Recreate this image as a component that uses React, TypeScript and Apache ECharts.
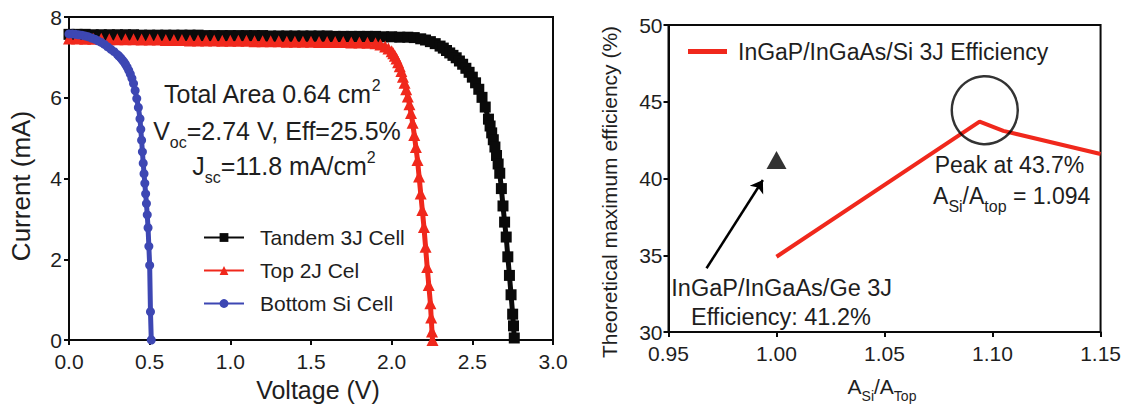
import React, { useEffect, useRef } from "react";
import * as echarts from "echarts";

// ---------------- Left panel: I-V curves [Voltage (V), Current (mA)] ----------------
const tandemCell: [number, number][] = [
  [0.00, 7.57], [0.05, 7.57], [0.10, 7.57], [0.15, 7.56], [0.20, 7.56], [0.25, 7.56], [0.30, 7.56],
  [0.35, 7.56], [0.40, 7.56], [0.45, 7.55], [0.50, 7.55], [0.55, 7.55], [0.60, 7.55], [0.65, 7.55],
  [0.70, 7.55], [0.75, 7.55], [0.80, 7.55], [0.85, 7.54], [0.90, 7.54], [0.95, 7.54], [1.00, 7.54],
  [1.05, 7.54], [1.10, 7.54], [1.15, 7.54], [1.20, 7.54], [1.25, 7.53], [1.30, 7.53], [1.35, 7.53],
  [1.40, 7.53], [1.45, 7.53], [1.50, 7.53], [1.55, 7.53], [1.60, 7.53], [1.65, 7.52], [1.70, 7.52],
  [1.75, 7.52], [1.80, 7.52], [1.85, 7.52], [1.90, 7.52], [1.95, 7.51], [2.00, 7.51], [2.05, 7.50],
  [2.10, 7.50], [2.14, 7.49], [2.18, 7.46], [2.21, 7.43], [2.24, 7.39], [2.27, 7.34], [2.30, 7.28],
  [2.32, 7.23], [2.34, 7.17], [2.36, 7.11], [2.38, 7.05], [2.40, 6.99], [2.42, 6.91], [2.44, 6.83],
  [2.46, 6.73], [2.48, 6.63], [2.50, 6.51], [2.52, 6.37], [2.54, 6.21], [2.56, 6.01], [2.58, 5.77],
  [2.60, 5.47], [2.61, 5.30], [2.62, 5.13], [2.63, 4.96], [2.64, 4.78], [2.65, 4.57], [2.66, 4.36],
  [2.67, 4.13], [2.68, 3.75], [2.69, 3.32], [2.70, 2.92], [2.71, 2.55], [2.72, 2.06], [2.73, 1.60],
  [2.74, 1.12], [2.75, 0.64], [2.755, 0.35], [2.76, 0.05],
];

const top2JCell: [number, number][] = [
  [0.00, 7.47], [0.05, 7.47], [0.10, 7.46], [0.15, 7.46], [0.20, 7.46], [0.25, 7.45], [0.30, 7.45],
  [0.35, 7.45], [0.40, 7.45], [0.45, 7.44], [0.50, 7.44], [0.55, 7.44], [0.60, 7.43], [0.65, 7.43],
  [0.70, 7.43], [0.75, 7.42], [0.80, 7.42], [0.85, 7.42], [0.90, 7.42], [0.95, 7.41], [1.00, 7.41],
  [1.05, 7.41], [1.10, 7.41], [1.15, 7.40], [1.20, 7.40], [1.25, 7.40], [1.30, 7.40], [1.35, 7.39],
  [1.40, 7.39], [1.45, 7.39], [1.50, 7.39], [1.55, 7.38], [1.60, 7.38], [1.65, 7.38], [1.70, 7.38],
  [1.75, 7.37], [1.80, 7.37], [1.85, 7.36], [1.90, 7.35], [1.93, 7.32], [1.96, 7.27], [1.98, 7.22],
  [2.00, 7.15], [2.01, 7.10], [2.02, 7.04], [2.03, 6.97], [2.04, 6.88], [2.05, 6.78], [2.06, 6.66],
  [2.07, 6.52], [2.08, 6.37], [2.09, 6.21], [2.10, 6.03], [2.11, 5.84], [2.12, 5.62], [2.13, 5.38],
  [2.14, 5.08], [2.15, 4.78], [2.16, 4.46], [2.17, 4.05], [2.18, 3.63], [2.19, 3.22], [2.20, 2.80],
  [2.21, 2.31], [2.22, 1.81], [2.23, 1.36], [2.24, 0.91], [2.245, 0.56], [2.25, 0.21], [2.253, 0.00],
];

const bottomSiCell: [number, number][] = [
  [0.00, 7.58], [0.02, 7.58], [0.04, 7.57], [0.06, 7.56], [0.08, 7.55], [0.10, 7.53], [0.12, 7.51],
  [0.14, 7.48], [0.16, 7.45], [0.18, 7.41], [0.20, 7.37], [0.22, 7.32], [0.24, 7.26], [0.26, 7.20],
  [0.28, 7.14], [0.30, 7.07], [0.31, 7.03], [0.32, 6.99], [0.33, 6.94], [0.34, 6.89], [0.35, 6.83],
  [0.36, 6.76], [0.37, 6.68], [0.38, 6.59], [0.39, 6.48], [0.40, 6.35], [0.41, 6.18], [0.42, 5.98],
  [0.43, 5.76], [0.44, 5.48], [0.445, 5.22], [0.45, 4.95], [0.455, 4.66], [0.46, 4.38], [0.465, 4.12],
  [0.47, 3.88], [0.475, 3.62], [0.48, 3.38], [0.485, 3.10], [0.49, 2.78], [0.495, 2.32], [0.50, 1.85],
  [0.505, 0.70], [0.51, 0.00],
];

const leftSeriesNames = ["Tandem 3J Cell", "Top 2J Cel", "Bottom Si Cell"];
const voltageTicks = [0, 3, 0.5];
const currentTicks = [0, 8, 2];

// ---------------- Right panel: efficiency vs area ratio ----------------
const areaRatio = [1.0, 1.094, 1.105, 1.15];
const siEfficiency = [34.9, 43.7, 43.1, 41.6];
const geCellPoint: [number, number] = [1.0, 41.2];
const arrowFrom: [number, number] = [0.9676, 34.15];
const arrowTo: [number, number] = [0.9937, 39.9];
const peakCircle: [number, number] = [1.0964, 44.45];
const ratioTicks = [0.95, 1.15, 0.05];
const effTicks = [30, 50, 5];
const rightSeriesName = "InGaP/InGaAs/Si 3J Efficiency";

const FONT = '"Liberation Sans", Arial, Helvetica, sans-serif';
const TXT = "#1e1e1e";
const BLACK = "#0a0a0a";
const RED = "#f0281c";
const BLUE = "#3d47b3";

function tok(fontSize: number, lineHeight: number, padTop: number, padBottom: number) {
  return {
    fontSize,
    fontFamily: FONT,
    fill: TXT,
    color: TXT,
    lineHeight,
    padding: [padTop, 0, padBottom, 0],
    verticalAlign: "top",
  };
}

function gText(x: number, y: number, text: string, size: number, rich?: any, rotation?: number) {
  return {
    type: "text",
    x,
    y,
    rotation: rotation || 0,
    z: 100,
    style: {
      text,
      fontSize: size,
      fontFamily: FONT,
      fill: TXT,
      align: "center",
      verticalAlign: "middle",
      textAlign: "center",
      textVerticalAlign: "middle",
      rich,
    },
  };
}

const richLeft = {
  m: tok(25, 28, 5, 3),
  s: tok(16, 16, 21, 0),
  p: tok(16, 16, 1, 20),
};
const richRight = {
  m: tok(23, 26, 5, 5),
  s: tok(16, 16, 19, 1),
};
const richAxis = {
  m: tok(21, 24, 6, 5),
  s: tok(14, 15, 19, 1),
};

function axisCommon() {
  return {
    axisLine: { show: true, lineStyle: { color: BLACK, width: 2 } },
    axisTick: { show: true, inside: false, length: 5, lineStyle: { color: BLACK, width: 2 } },
    splitLine: { show: false },
  };
}

export default function App() {
  const ref = useRef<HTMLDivElement>(null);

  useEffect(() => {
    if (!ref.current) return;
    const chart = echarts.init(ref.current, null, { renderer: "svg" });

    const option: any = {
      animation: false,
      backgroundColor: "#ffffff",
      textStyle: { fontFamily: FONT },
      grid: [
        { left: 69, top: 17, width: 484, height: 323, show: true, borderColor: BLACK, borderWidth: 2, backgroundColor: "transparent" },
        { left: 668.5, top: 25, width: 433.5, height: 307, show: true, borderColor: BLACK, borderWidth: 2, backgroundColor: "transparent" },
      ],
      xAxis: [
        {
          gridIndex: 0,
          type: "value",
          min: voltageTicks[0],
          max: voltageTicks[1],
          interval: voltageTicks[2],
          ...axisCommon(),
          axisLabel: {
            fontSize: 21,
            color: TXT,
            fontFamily: FONT,
            margin: 11,
            formatter: (v: number) => v.toFixed(1),
          },
        },
        {
          gridIndex: 1,
          type: "value",
          min: ratioTicks[0],
          max: ratioTicks[1],
          interval: ratioTicks[2],
          ...axisCommon(),
          axisLabel: {
            fontSize: 21,
            color: TXT,
            fontFamily: FONT,
            margin: 11,
            formatter: (v: number) => v.toFixed(2),
          },
        },
      ],
      yAxis: [
        {
          gridIndex: 0,
          type: "value",
          min: currentTicks[0],
          max: currentTicks[1],
          interval: currentTicks[2],
          ...axisCommon(),
          axisLabel: { fontSize: 21, color: TXT, fontFamily: FONT, margin: 7 },
        },
        {
          gridIndex: 1,
          type: "value",
          min: effTicks[0],
          max: effTicks[1],
          interval: effTicks[2],
          ...axisCommon(),
          axisLabel: { fontSize: 21, color: TXT, fontFamily: FONT, margin: 6 },
        },
      ],
      legend: [
        {
          data: leftSeriesNames,
          orient: "vertical",
          left: 198,
          top: 222,
          itemWidth: 40,
          itemHeight: 11,
          itemGap: 12,
          textStyle: { fontSize: 21, color: TXT, fontFamily: FONT, lineHeight: 21, padding: [0, 0, 0, 11] },
          selectedMode: false,
        },
        {
          data: [{ name: rightSeriesName, icon: "rect" }],
          orient: "horizontal",
          left: 683,
          top: 34,
          itemWidth: 39,
          itemHeight: 5,
          itemStyle: { color: RED },
          textStyle: { fontSize: 23, color: TXT, fontFamily: FONT, lineHeight: 25, padding: [0, 0, 0, 6] },
          selectedMode: false,
        },
      ],
      series: [
        {
          name: leftSeriesNames[0],
          type: "line",
          xAxisIndex: 0,
          yAxisIndex: 0,
          data: tandemCell,
          symbol: "rect",
          symbolSize: 11,
          showAllSymbol: true,
          lineStyle: { color: BLACK, width: 5 },
          itemStyle: { color: BLACK },
        },
        {
          name: leftSeriesNames[1],
          type: "line",
          xAxisIndex: 0,
          yAxisIndex: 0,
          data: top2JCell,
          symbol: "triangle",
          symbolSize: 12,
          showAllSymbol: true,
          lineStyle: { color: RED, width: 5 },
          itemStyle: { color: RED },
        },
        {
          name: leftSeriesNames[2],
          type: "line",
          xAxisIndex: 0,
          yAxisIndex: 0,
          data: bottomSiCell,
          symbol: "circle",
          symbolSize: 9,
          showAllSymbol: true,
          lineStyle: { color: BLUE, width: 5 },
          itemStyle: { color: BLUE },
        },
        {
          name: rightSeriesName,
          type: "line",
          xAxisIndex: 1,
          yAxisIndex: 1,
          data: areaRatio.map((x, i) => [x, siEfficiency[i]]),
          symbol: "none",
          lineStyle: { color: RED, width: 4 },
          itemStyle: { color: RED },
        },
        {
          name: "GeCell",
          type: "scatter",
          xAxisIndex: 1,
          yAxisIndex: 1,
          data: [geCellPoint],
          symbol: "triangle",
          symbolSize: [20, 18],
          itemStyle: { color: "#000" },
        },
        {
          name: "Arrow",
          type: "lines",
          coordinateSystem: "cartesian2d",
          xAxisIndex: 1,
          yAxisIndex: 1,
          data: [{ coords: [arrowFrom, arrowTo] }],
          symbol: ["none", "arrow"],
          symbolSize: 12,
          lineStyle: { color: "#000", width: 2.5, opacity: 1 },
        },
        {
          name: "PeakCircle",
          type: "scatter",
          xAxisIndex: 1,
          yAxisIndex: 1,
          data: [peakCircle],
          symbol: "circle",
          symbolSize: [66, 68],
          itemStyle: { color: "rgba(0,0,0,0)", borderColor: "#000", borderWidth: 2.5 },
          z: 5,
        },
      ],
      graphic: [
        gText(21, 186, "Current (mA)", 26, undefined, Math.PI / 2),
        gText(318, 390, "Voltage (V)", 25),
        gText(272, 90, "{m|Total Area 0.64 cm}{p|2}", 25, richLeft),
        gText(277, 127, "{m|V}{s|oc}{m|=2.74 V, Eff=25.5%}", 25, richLeft),
        gText(284, 162.5, "{m|J}{s|sc}{m|=11.8 mA/cm}{p|2}", 25, richLeft),
        gText(609, 192, "Theoretical maximum efficiency (%)", 21, undefined, Math.PI / 2),
        gText(882, 382, "{m|A}{s|Si}{m|/A}{s|Top}", 21, richAxis),
        gText(1009.5, 165, "Peak at 43.7%", 23),
        gText(1011.7, 192, "{m|A}{s|Si}{m|/A}{s|top}{m| = 1.094}", 23, richRight),
        gText(781.7, 288, "InGaP/InGaAs/Ge 3J", 23.5),
        gText(781, 317, "Efficiency: 41.2%", 23.5),
      ],
    };

    chart.setOption(option);
    return () => {
      chart.dispose();
    };
  }, []);

  return (
    <div
      ref={ref}
      style={{ position: "fixed", left: 0, top: 0, width: 1124, height: 406, background: "#fff" }}
    />
  );
}
